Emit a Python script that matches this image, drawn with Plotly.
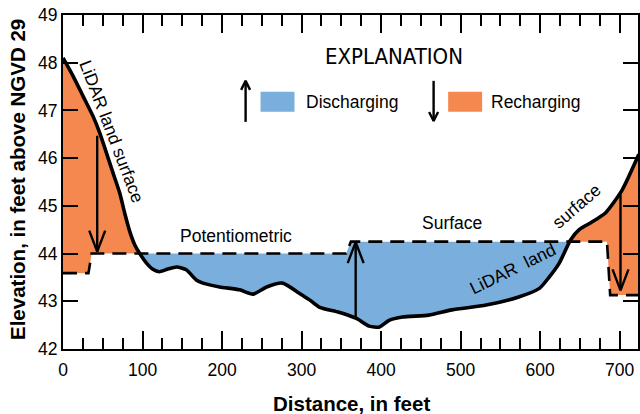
import numpy as np
import plotly.graph_objects as go

# ---------------- data ----------------
# LiDAR land surface profile: distance (ft) and elevation (ft above NGVD 29)
land_distance = [0, 13, 25.5, 38, 46.4, 54.8, 63.1, 71.5, 77.7, 84, 90.3, 96.5, 105,
                 113, 121, 131, 143, 155, 168, 176, 197, 222, 239, 256, 276, 297,
                 310, 322, 347, 369, 385, 398, 410, 427, 460, 489, 532, 573, 599,
                 611, 624, 638, 649, 665, 682, 703, 724]
land_elev = [48.10, 47.71, 47.29, 46.87, 46.52, 46.10, 45.68, 45.26, 44.84, 44.46,
             44.18, 44.00, 43.80, 43.67, 43.62, 43.67, 43.72, 43.66, 43.44, 43.38,
             43.30, 43.24, 43.15, 43.30, 43.38, 43.17, 43.03, 42.88, 42.77, 42.64,
             42.48, 42.46, 42.60, 42.67, 42.71, 42.82, 42.92, 43.09, 43.27, 43.50,
             43.80, 44.28, 44.50, 44.66, 44.85, 45.33, 46.08]

# Potentiometric surface
pot_distance = [0, 32, 36, 356, 362, 684, 688, 724]
pot_elev = [43.59, 43.59, 44.00, 44.00, 44.25, 44.25, 43.13, 43.13]

# Flow arrows (distance, start elevation, end elevation)
arrow_distance = [43, 368, 701]
arrow_start = [46.47, 42.67, 45.29]
arrow_end = [44.04, 44.24, 43.23]

x_ticks = [0, 100, 200, 300, 400, 500, 600, 700]
y_ticks = [42, 43, 44, 45, 46, 47, 48, 49]

BLUE = "#7AAEDC"
ORANGE = "#F5884F"
FONT = "Liberation Sans, Arial, sans-serif"
NARROW = "Liberation Sans Narrow, Arial Narrow, DejaVu Sans Condensed, sans-serif"

X_RANGE = [0, 723]
Y_RANGE = [42, 49]
W, H = 640, 414
ML, MR, MT, MB = 63, 0, 15, 65
PW, PH = W - ML - MR, H - MT - MB
px_x = PW / (X_RANGE[1] - X_RANGE[0])
px_y = PH / (Y_RANGE[1] - Y_RANGE[0])

fig = go.Figure()

# ---------------- fills between land surface and potentiometric surface ----------------
xs = np.array(sorted(set(land_distance) | set(pot_distance)), dtype=float)
L = np.interp(xs, land_distance, land_elev)
P = np.interp(xs, pot_distance, pot_elev)
gx, gl, gp = [xs[0]], [L[0]], [P[0]]
for i in range(len(xs) - 1):
    d0, d1 = L[i] - P[i], L[i + 1] - P[i + 1]
    if d0 * d1 < 0:
        t = d0 / (d0 - d1)
        xc = xs[i] + t * (xs[i + 1] - xs[i])
        yc = L[i] + t * (L[i + 1] - L[i])
        gx.append(xc); gl.append(yc); gp.append(yc)
    gx.append(xs[i + 1]); gl.append(L[i + 1]); gp.append(P[i + 1])
gx, gl, gp = map(np.array, (gx, gl, gp))
dd = gl - gp

runs = []
cur = [0]
cur_sign = None
for i in range(1, len(gx)):
    s = np.sign(dd[i])
    cur.append(i)
    if s != 0:
        if cur_sign is None:
            cur_sign = s
        elif s != cur_sign:
            runs.append((cur_sign, cur[:-1]))
            cur = [cur[-2], i]
            cur_sign = s
runs.append((cur_sign, cur))

for s, idx in runs:
    idx = np.array(idx)
    px_ = np.concatenate([gx[idx], gx[idx][::-1]])
    py_ = np.concatenate([gl[idx], gp[idx][::-1]])
    fig.add_trace(go.Scatter(x=px_, y=py_, fill="toself", mode="lines",
                             line=dict(width=0), fillcolor=ORANGE if s > 0 else BLUE,
                             hoverinfo="skip", showlegend=False))

# potentiometric surface (dashed)
fig.add_trace(go.Scatter(x=pot_distance, y=pot_elev, mode="lines",
                         line=dict(color="black", width=2.6, dash="14px,8px"),
                         showlegend=False, hoverinfo="skip"))
# land surface
fig.add_trace(go.Scatter(x=land_distance, y=land_elev, mode="lines",
                         line=dict(color="black", width=3.6, shape="spline", smoothing=0.6),
                         showlegend=False, hoverinfo="skip"))


def arrow_xy(x, y0, y1, hw, hh):
    d = 1 if y1 > y0 else -1
    dx = hw / px_x
    dy = hh / px_y
    return ([x, x, None, x - dx, x, x + dx],
            [y0, y1, None, y1 - d * dy, y1, y1 - d * dy])


ax_all, ay_all = [], []
for x, y0, y1 in zip(arrow_distance, arrow_start, arrow_end):
    a, b = arrow_xy(x, y0, y1, 8, 21)
    ax_all += a + [None]
    ay_all += b + [None]
fig.add_trace(go.Scatter(x=ax_all, y=ay_all, mode="lines",
                         line=dict(color="black", width=2.4),
                         showlegend=False, hoverinfo="skip"))

# legend arrows
lx, ly = [], []
for x, y0, y1 in [(229.6, 46.76, 47.62), (466.0, 47.62, 46.78)]:
    a, b = arrow_xy(x, y0, y1, 4.5, 9)
    lx += a + [None]
    ly += b + [None]
fig.add_trace(go.Scatter(x=lx, y=ly, mode="lines",
                         line=dict(color="black", width=2.4),
                         showlegend=False, hoverinfo="skip"))

shapes = [
    dict(type="rect", x0=248.4, x1=291.1, y0=46.97, y1=47.39,
         fillcolor=BLUE, line=dict(width=0)),
    dict(type="rect", x0=484.3, x1=527.0, y0=46.97, y1=47.39,
         fillcolor=ORANGE, line=dict(width=0)),
]

txt = dict(family=FONT, size=17.5, color="black")
annotations = [
    dict(x=416.6, y=48.12, text="EXPLANATION", showarrow=False,
         font=dict(family=NARROW, size=22, color="black"), xanchor="center", yanchor="middle"),
    dict(x=303.6, y=47.18, text="Discharging", showarrow=False, font=txt,
         xanchor="left", yanchor="middle"),
    dict(x=535.8, y=47.18, text="Recharging", showarrow=False, font=txt,
         xanchor="left", yanchor="middle"),
    dict(x=61.5, y=46.55, text="LiDAR land surface", showarrow=False, font=txt,
         textangle=69, xanchor="center", yanchor="middle"),
    dict(x=218, y=44.37, text="Potentiometric", showarrow=False, font=txt,
         xanchor="center", yanchor="middle"),
    dict(x=489, y=44.64, text="Surface", showarrow=False, font=txt,
         xanchor="center", yanchor="middle"),
    dict(x=565, y=43.68, text="LiDAR  land", showarrow=False, font=txt,
         textangle=-26, xanchor="center", yanchor="middle"),
    dict(x=646, y=44.99, text="surface", showarrow=False, font=txt,
         textangle=-41, xanchor="center", yanchor="middle"),
    # axis titles
    dict(xref="paper", yref="paper", x=0, y=(349 - 180) / PH, xshift=-45,
         text="Elevation, in feet above NGVD 29", textangle=-90, showarrow=False,
         font=dict(family=FONT, size=20.5, color="black", weight="bold"),
         xanchor="center", yanchor="middle"),
    dict(xref="paper", yref="paper", x=(352.5 - ML) / PW, y=0, yshift=-54,
         text="Distance, in feet", showarrow=False,
         font=dict(family=FONT, size=20.5, color="black", weight="bold"),
         xanchor="center", yanchor="middle"),
]

axis_common = dict(showline=True, linecolor="black", linewidth=2, mirror="ticks",
                   ticks="inside", tickcolor="black", tickwidth=1.5,
                   showgrid=False, zeroline=False,
                   tickfont=dict(family=FONT, size=17.5, color="black"))

fig.update_layout(
    width=W, height=H,
    margin=dict(l=ML, r=MR, t=MT, b=MB),
    paper_bgcolor="white", plot_bgcolor="white",
    showlegend=False,
    xaxis=dict(range=X_RANGE, tickvals=x_ticks, ticklen=18, ticklabelstandoff=4,
               minor=dict(dtick=25, tick0=0, ticklen=11, ticks="inside",
                          tickcolor="black", tickwidth=1.5),
               **axis_common),
    yaxis=dict(range=Y_RANGE, tickvals=y_ticks, ticklen=15, **axis_common),
    shapes=shapes,
    annotations=annotations,
)

fig.write_html("out.html", config={"displayModeBar": False},
               post_script="document.body.style.margin='0';document.body.style.overflow='hidden';")
